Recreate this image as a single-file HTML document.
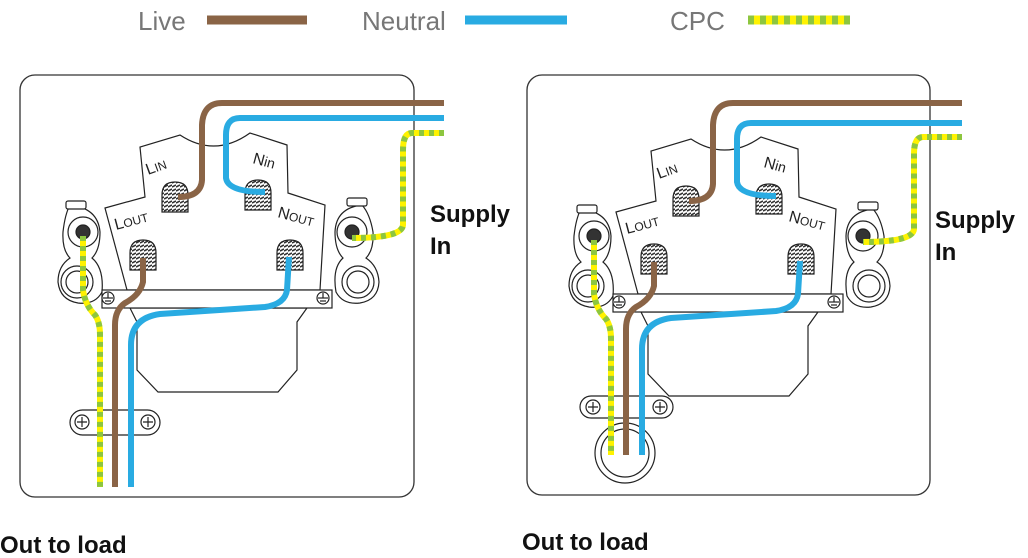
<!DOCTYPE html>
<html><head><meta charset="utf-8"><style>
html,body{margin:0;padding:0;background:#fff}
svg{display:block}
text{font-family:"Liberation Sans",sans-serif}
</style></head><body>
<svg width="1028" height="558" viewBox="0 0 1028 558" xmlns="http://www.w3.org/2000/svg">
<defs>
<pattern id="h" width="4" height="4" patternUnits="userSpaceOnUse"><rect width="4" height="4" fill="#fff"/><line x1="0" y1="3" x2="4" y2="1" stroke="#333" stroke-width="1.6"/></pattern>
<g id="comp" fill="#fff" stroke="#222" stroke-width="1.2">
  <path d="M130 308 L307 308 L297 322 L297 370 L278 392 L158 392 L137 370 L137 322 Z"/>
  <path d="M70 205 Q98 208 100 232 Q100 250 92 258 Q104 268 102 292 Q95 305 78 303 Q60 300 58 282 Q58 266 70 258 Q62 250 63 232 Q65 214 70 205Z"/>
  <path d="M362 205 Q336 208 335 232 Q335 250 343 258 Q332 268 336 292 Q343 305 360 303 Q378 300 379 282 Q378 266 366 258 Q374 250 373 232 Q370 214 362 205Z"/>
  <rect x="66" y="201" width="20" height="8" rx="2"/>
  <rect x="347" y="198" width="20" height="8" rx="2"/>
  <circle cx="83" cy="232" r="15"/><circle cx="83" cy="232" r="7" fill="#333"/>
  <circle cx="77" cy="282" r="16"/><circle cx="77" cy="282" r="11"/>
  <circle cx="352" cy="232" r="15"/><circle cx="352" cy="232" r="7" fill="#333"/>
  <circle cx="358" cy="282" r="16"/><circle cx="358" cy="282" r="11"/>
  <path d="M105 208 L145 197 L140 147 L180 135 Q215 158 250 133 L287 145 L288 193 L325 205 L320 290 L127 290 Z"/>
  <rect x="102" y="290" width="230" height="18"/>
  <circle cx="108" cy="298" r="6"/><line x1="103" y1="298" x2="113" y2="298"/><line x1="105" y1="301" x2="111" y2="301"/><line x1="108" y1="293" x2="108" y2="298"/>
  <circle cx="323" cy="298" r="6"/><line x1="318" y1="298" x2="328" y2="298"/><line x1="320" y1="301" x2="326" y2="301"/><line x1="323" y1="293" x2="323" y2="298"/>
  <path d="M162 212 L162 195 Q162 182 175 182 Q188 182 188 195 L188 212 Z" fill="url(#h)"/>
  <path d="M245 210 L245 193 Q245 180 258 180 Q271 180 271 193 L271 210 Z" fill="url(#h)"/>
  <path d="M130 270 L130 253 Q130 240 143 240 Q156 240 156 253 L156 270 Z" fill="url(#h)"/>
  <path d="M277 270 L277 253 Q277 240 290 240 Q303 240 303 253 L303 270 Z" fill="url(#h)"/>
</g>
</defs>
<g font-size="26" fill="#777">
<text x="138" y="30">Live</text><text x="362" y="30">Neutral</text><text x="670" y="30">CPC</text></g>
<line x1="207" y1="20" x2="307" y2="20" stroke="#8a6446" stroke-width="9"/>
<line x1="465" y1="20" x2="567" y2="20" stroke="#29abe2" stroke-width="9"/>
<line x1="748" y1="20" x2="850" y2="20" stroke="#fff200" stroke-width="9"/>
<line x1="748" y1="20" x2="850" y2="20" stroke="#8dc63f" stroke-width="9" stroke-dasharray="6,6"/>

<rect x="20" y="75" width="394" height="422" rx="15" fill="none" stroke="#333" stroke-width="1.3"/>
<rect x="527" y="75" width="403" height="420" rx="15" fill="none" stroke="#333" stroke-width="1.3"/>

<use href="#comp"/>
<use href="#comp" transform="translate(511,4)"/>

<g fill="#fff" stroke="#222" stroke-width="1.2">
<rect x="70" y="410" width="90" height="25" rx="12.5"/>
<circle cx="82" cy="422" r="7"/><circle cx="148" cy="422" r="7"/>
<path d="M77 422h10M82 417v10M143 422h10M148 417v10"/>
<circle cx="625" cy="453" r="30"/><circle cx="625" cy="453" r="24"/>
<rect x="580" y="396" width="93" height="22" rx="11"/>
<circle cx="593" cy="407" r="7"/><circle cx="660" cy="407" r="7"/>
<path d="M588 407h10M593 402v10M655 407h10M660 402v10"/>
</g>

<g fill="none" stroke-width="6" stroke-linejoin="round">
<path d="M444 103 L222 103 Q203 103 202 125 L202 180 Q201 197 178 197" stroke="#8a6446"/>
<path d="M444 118 L240 118 Q226 118 226 135 L226 178 Q228 192 265 192" stroke="#29abe2"/>
<path d="M444 133 L412 133 Q403 133 403 150 L403 225 Q402 238 352 238" stroke="#fff200"/>
<path d="M444 133 L412 133 Q403 133 403 150 L403 225 Q402 238 352 238" stroke="#8dc63f" stroke-dasharray="5,5"/>
<path d="M143 258 L143 282 Q140 295 125 303 Q115 310 115 325 L115 487" stroke="#8a6446"/>
<path d="M289 257 L287 290 Q285 304 265 307 L160 314 Q131 318 131 345 L131 487" stroke="#29abe2"/>
<path d="M83 236 L83 290 Q85 305 95 315 Q100 322 100 335 L100 487" stroke="#fff200"/>
<path d="M83 236 L83 290 Q85 305 95 315 Q100 322 100 335 L100 487" stroke="#8dc63f" stroke-dasharray="5,5"/>
</g>
<g fill="none" stroke-width="6" stroke-linejoin="round" transform="translate(511,4)">
<path d="M451 99 L222 99 Q203 99 202 121 L202 180 Q201 197 178 197" stroke="#8a6446"/>
<path d="M451 119 L240 119 Q226 119 226 135 L226 178 Q228 192 265 192" stroke="#29abe2"/>
<path d="M451 133 L412 133 Q403 133 403 150 L403 225 Q402 238 352 238" stroke="#fff200"/>
<path d="M451 133 L412 133 Q403 133 403 150 L403 225 Q402 238 352 238" stroke="#8dc63f" stroke-dasharray="5,5"/>
<path d="M143 258 L143 282 Q140 295 125 303 Q115 310 115 325 L115 451" stroke="#8a6446"/>
<path d="M289 257 L287 290 Q285 304 265 307 L160 314 Q131 318 131 345 L131 451" stroke="#29abe2"/>
<path d="M83 236 L83 290 Q85 305 95 315 Q100 322 100 335 L100 451" stroke="#fff200"/>
<path d="M83 236 L83 290 Q85 305 95 315 Q100 322 100 335 L100 451" stroke="#8dc63f" stroke-dasharray="5,5"/>
</g>

<g fill="#222">
<g>
<text transform="translate(148,175) rotate(-20)" font-size="16">L<tspan font-size="12">IN</tspan></text>
<text transform="translate(252,163) rotate(15)" font-size="16">N<tspan font-size="14">in</tspan></text>
<text transform="translate(116,230) rotate(-15)" font-size="16">L<tspan font-size="12">OUT</tspan></text>
<text transform="translate(277,217) rotate(15)" font-size="16">N<tspan font-size="12">OUT</tspan></text>
</g>
<g transform="translate(511,4)">
<text transform="translate(148,175) rotate(-20)" font-size="16">L<tspan font-size="12">IN</tspan></text>
<text transform="translate(252,163) rotate(15)" font-size="16">N<tspan font-size="14">in</tspan></text>
<text transform="translate(116,230) rotate(-15)" font-size="16">L<tspan font-size="12">OUT</tspan></text>
<text transform="translate(277,217) rotate(15)" font-size="16">N<tspan font-size="12">OUT</tspan></text>
</g>
</g>
<g font-weight="bold" font-size="24" fill="#111">
<text x="430" y="222">Supply</text><text x="430" y="254">In</text>
<text x="935" y="228">Supply</text><text x="935" y="260">In</text>
<text x="0" y="553">Out to load</text>
<text x="522" y="550">Out to load</text>
</g>
</svg>
</body></html>
